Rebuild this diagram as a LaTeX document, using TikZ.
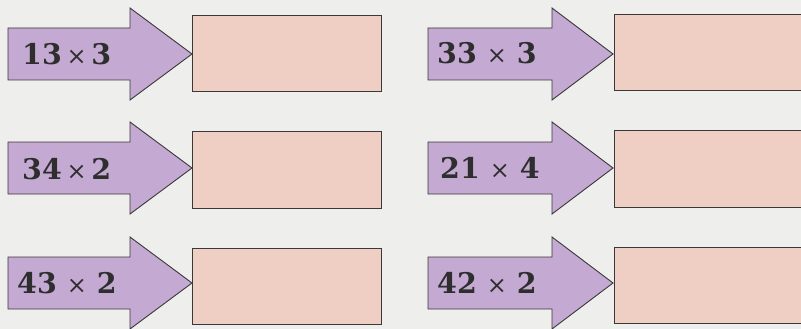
\documentclass[tikz,border=0pt]{standalone}
\usepackage{fontspec}
\setmainfont{DejaVu Serif}
\definecolor{bg}{HTML}{EEEEEC}
\definecolor{arrowfill}{HTML}{C4A9D2}
\definecolor{boxfill}{HTML}{EFCFC3}
\definecolor{edge}{HTML}{3A3838}
\newcommand{\tms}{{\mdseries\fontsize{24}{28}\selectfont ×}}
\tikzset{
  arrowshape/.style={fill=arrowfill, draw=edge, line width=0.9pt, line join=miter},
  answerbox/.style={fill=boxfill, draw=edge, line width=0.9pt, rectangle, inner sep=0pt},
  sumtext/.style={anchor=west, inner sep=0pt, text=black!82, font=\fontsize{28.5}{32}\selectfont\bfseries},
}
\begin{document}
\begin{tikzpicture}[x=1pt,y=-1pt]
\useasboundingbox (0,0) rectangle (801,329);
\clip (0,0) rectangle (801,329);
\fill[bg] (0,0) rectangle (801,329);
% arrows
\foreach \c in {54,168,283}{
  \filldraw[arrowshape] (8,\c-26) -- (130,\c-26) -- (130,\c-46) -- (192,\c) -- (130,\c+46) -- (130,\c+26) -- (8,\c+26) -- cycle;
  \filldraw[arrowshape] (428,\c-26) -- (552,\c-26) -- (552,\c-46) -- (613,\c) -- (552,\c+46) -- (552,\c+26) -- (428,\c+26) -- cycle;
}
% answer boxes
\node[answerbox, minimum width=189pt, minimum height=76pt, anchor=north west] (b1) at (192,15) {};
\node[answerbox, minimum width=189pt, minimum height=77pt, anchor=north west] (b2) at (192,131) {};
\node[answerbox, minimum width=189pt, minimum height=76pt, anchor=north west] (b3) at (192,248) {};
\node[answerbox, minimum width=200pt, minimum height=76pt, anchor=north west] (b4) at (614,14) {};
\node[answerbox, minimum width=200pt, minimum height=77pt, anchor=north west] (b5) at (614,130) {};
\node[answerbox, minimum width=200pt, minimum height=76pt, anchor=north west] (b6) at (614,247) {};
% texts
\node[sumtext] (t1) at (22,54) {13\,\tms\,3};
\node[sumtext] (t2) at (22,169) {34\,\tms\,2};
\node[sumtext] (t3) at (17,283) {43 \tms\ 2};
\node[sumtext] (t4) at (437,53) {33 \tms\ 3};
\node[sumtext] (t5) at (440,168) {21 \tms\ 4};
\node[sumtext] (t6) at (437,283) {42 \tms\ 2};
\end{tikzpicture}
\end{document}
